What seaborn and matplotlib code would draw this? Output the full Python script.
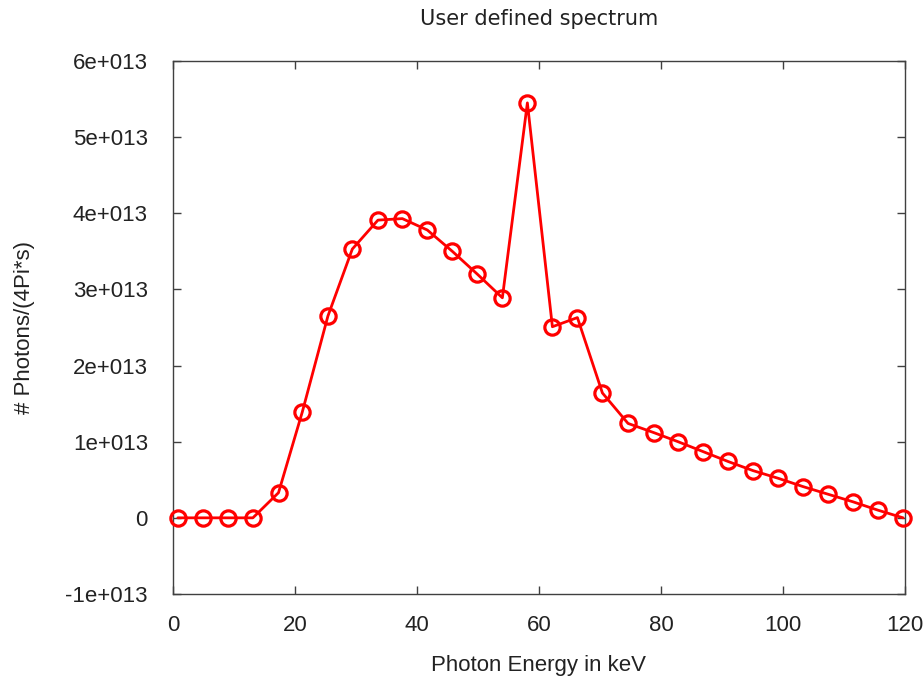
import numpy as np
import pandas as pd
import matplotlib
matplotlib.use("Agg")
import matplotlib.pyplot as plt
import seaborn as sns

# photon energies (keV)
energy_kev = [0.8, 4.9, 9.0, 13.1, 17.3, 21.2, 25.4, 29.4, 33.6, 37.6,
              41.7, 45.8, 49.9, 54.0, 58.1, 62.2, 66.3, 70.4, 74.6, 78.8,
              82.8, 86.9, 91.0, 95.1, 99.2, 103.3, 107.4, 111.5, 115.6, 119.7]
# photons per (4Pi*s), in units of 1e13
photons_e13 = [0.0, 0.0, 0.0, 0.0, 0.33, 1.39, 2.65, 3.53, 3.91, 3.93,
               3.78, 3.50, 3.20, 2.89, 5.45, 2.51, 2.63, 1.64, 1.24, 1.12,
               1.00, 0.87, 0.74, 0.62, 0.52, 0.41, 0.31, 0.21, 0.10, 0.0]

x_ticks = [0, 20, 40, 60, 80, 100, 120]
y_ticks = [-1e13, 0, 1e13, 2e13, 3e13, 4e13, 5e13, 6e13]
y_tick_labels = ["-1e+013", "0", "1e+013", "2e+013", "3e+013",
                 "4e+013", "5e+013", "6e+013"]

df = pd.DataFrame({"energy": energy_kev,
                   "photons": np.array(photons_e13) * 1e13})

sns.set_style("ticks")
plt.rcParams["font.family"] = ["Liberation Sans", "DejaVu Sans"]

fig = plt.figure(figsize=(9.24, 6.8), dpi=100)
ax = fig.add_axes([0.1872, 0.1265, 0.7922, 0.7838])

sns.lineplot(data=df, x="energy", y="photons", ax=ax, color="#ff0000",
             linewidth=2.0, marker="o", markersize=11,
             markerfacecolor="none", markeredgecolor="#ff0000",
             markeredgewidth=2.3, clip_on=False, zorder=3)

ax.set_xlim(0, 120)
ax.set_ylim(-1e13, 6e13)
ax.set_xticks(x_ticks)
ax.set_xticklabels([str(t) for t in x_ticks])
ax.set_yticks(y_ticks)
ax.set_yticklabels(y_tick_labels)

for side in ["top", "right", "left", "bottom"]:
    ax.spines[side].set_visible(True)
    ax.spines[side].set_color("#404040")
    ax.spines[side].set_linewidth(1.0)
ax.tick_params(direction="in", length=6, width=1, color="#404040",
               top=True, right=True, labelsize=16, labelcolor="#222222")
ax.tick_params(axis="y", pad=18)
ax.tick_params(axis="x", pad=15)

ax.set_xlabel("Photon Energy in keV", fontsize=16, color="#222222", labelpad=14)
ax.set_ylabel("# Photons/(4Pi*s)", fontsize=16, color="#222222", labelpad=22)
ax.set_title("User defined spectrum", fontsize=15, color="#222222",
             family=["DejaVu Sans"], pad=26)

fig.savefig("out.png", dpi=100)
